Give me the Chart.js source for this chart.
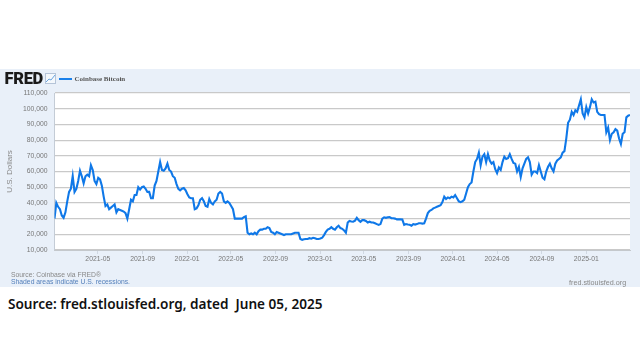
<!DOCTYPE html>
<html>
<head>
<meta charset="utf-8">
<title>Coinbase Bitcoin</title>
<script src="https://cdn.jsdelivr.net/npm/chart.js@4"></script>
<style>
    body { margin: 0; background: #fff; width: 640px; height: 356px; overflow: hidden; position: relative; }
    #panel { position: absolute; left: 0; top: 69px; width: 640px; height: 218px; background: #e9f0f9; }
    canvas { position: absolute; left: 0; top: 0; filter: blur(0.4px); }
    #panel div, #panel svg { position: absolute; white-space: nowrap; }
    #logo { left: 4.5px; top: 0px; font: 900 16.5px/20px Roboto, sans-serif; letter-spacing: -0.3px; color: #1a1a1a; }
    #icon { left: 45px; top: 4px; }
    #legendLine { left: 59px; top: 9px; width: 13px; height: 2px; background: #1a80ea; }
    #legendText { left: 74.5px; top: 5px; font: bold 7px/10px "Liberation Serif", serif; color: #555; }
    #src1 { left: 11px; top: 200.5px; font: 6.8px/9px "Liberation Sans", sans-serif; color: #888; }
    #src2 { left: 11px; top: 208px; font: 6.8px/9px "Liberation Sans", sans-serif; color: #5580bb; }
    #site { left: 569px; top: 208.5px; font: 7.2px/9px "Liberation Sans", sans-serif; color: #888; }
    #caption { position: absolute; left: 8px; top: 294px; font: 600 13.6px/20px "Noto Sans", sans-serif; color: #111; white-space: nowrap; }
</style>
</head>
<body>
<div id="panel">
    <canvas id="fredChart" width="640" height="218"></canvas>
    <div id="logo">FRED</div>
    <svg id="icon" width="11" height="11" viewBox="0 0 11 11">
        <rect x="0.5" y="0.5" width="10" height="10" fill="#f4f8fc" stroke="#b5c4d8"/>
        <polyline points="1,9 4,6 6,7 10,2" fill="none" stroke="#6aa5e0"/>
    </svg>
    <div id="legendLine"></div>
    <div id="legendText">Coinbase Bitcoin</div>
    <div id="src1">Source: Coinbase via FRED®</div>
    <div id="src2">Shaded areas indicate U.S. recessions.</div>
    <div id="site">fred.stlouisfed.org</div>
</div>
<div id="caption">Source: fred.stlouisfed.org, dated&nbsp; June 05, 2025</div>

<script>
// one value every 5 days, in thousands of dollars
const startDate = '2021-01-02';
const stepDays = 5;
const btcThousands = [
    30, 40, 37.5, 36, 32, 30.5, 34, 41, 47, 49, 57, 47, 49, 54, 60.5, 57, 52.5, 57, 58, 57,
    64, 61, 54, 52, 56, 55, 51, 44, 38, 39, 36, 37, 38, 39, 34, 36, 35.5, 35, 34.5, 33.5,
    30, 36, 42, 41, 45, 45, 50, 48.5, 50, 50.5, 49, 47, 47, 43, 43, 51, 54, 60, 66, 61,
    60.5, 62, 65, 61, 60, 57, 56, 52, 49, 48, 49, 49.5, 48, 45.5, 43.5, 43, 43, 36, 36.5, 38.5,
    42, 43, 41, 38, 37.5, 42.5, 40, 39, 41, 42, 46, 47, 46, 41, 40, 41, 40, 38, 36, 30,
    30, 30, 30, 30, 31, 31.5, 21, 20, 20.5, 20, 21, 20, 22, 23, 23, 23.5, 23.5, 24.5, 24, 21.5,
    21, 20, 21.5, 21, 20.5, 20, 19.5, 20, 20, 20, 20, 20.5, 21, 21, 21, 17, 16.5, 16.8, 17, 17,
    17.5, 17.2, 17.8, 17.5, 17, 17, 17.3, 17.8, 19.5, 21.5, 23, 23.5, 24.5, 23.5, 23, 24.5, 25.5, 24, 23.5, 22.5,
    21, 27.5, 28.5, 28.2, 28, 28.7, 30.5, 29, 28, 29, 29, 28.5, 27.5, 28, 27.5, 27.5, 27, 26.5, 26, 26.5,
    30, 30.8, 30.5, 30.8, 31, 30.3, 30.2, 30, 29.5, 29.6, 29.5, 29.4, 26, 26.5, 26.2, 26.1, 25.5, 26.5, 26.2, 26.5,
    27, 27, 26.8, 27, 30, 33.5, 35, 35.5, 36.5, 37, 37.5, 38, 38.5, 40.5, 44, 42.5, 43.5, 43, 44, 43.5,
    45, 43, 41, 40.5, 41, 42, 46, 50, 52, 53, 60, 66, 68, 72, 64, 69.5, 71, 66, 71, 67,
    65, 66, 61.5, 59, 62.5, 61, 66, 69.5, 68, 68.5, 71, 68, 65.5, 65, 60, 63, 56.5, 62, 65, 68,
    69, 66, 58, 60, 60, 59, 64, 60, 56, 55, 60, 63, 65, 62, 60, 65, 67, 68, 69, 72,
    73, 81, 91, 93, 98, 96, 99, 98, 102, 106, 97, 94.5, 101, 97, 101, 106, 104, 104.5, 98, 96.5,
    96, 96, 96, 85, 88, 80, 84, 85, 87, 86, 81, 77.5, 84, 85, 94.5, 95.5, 96
];
const tickDates = [
    '2021-05-01', '2021-09-01', '2022-01-01', '2022-05-01', '2022-09-01', '2023-01-01',
    '2023-05-01', '2023-09-01', '2024-01-01', '2024-05-01', '2024-09-01', '2025-01-01'
];

const dayMs = 24 * 3600 * 1000;
const startMs = Date.parse(startDate);
const points = btcThousands.map((v, i) => ({ x: startMs + i * stepDays * dayMs, y: v * 1000 }));

const tickFont = { family: '"Liberation Sans", sans-serif', size: 6.8 };

// white plot background, the panel colour stays around it
const plotBackground = {
    id: 'plotBackground',
    beforeDraw(chart) {
        const a = chart.chartArea;
        chart.ctx.fillStyle = '#fff';
        chart.ctx.fillRect(a.left, a.top, a.width, a.height);
    }
};

const ctx = document.getElementById('fredChart').getContext('2d');
new Chart(ctx, {
    type: 'line',
    data: {
        datasets: [{
            label: 'Coinbase Bitcoin',
            data: points,
            borderColor: '#0f78e8',
            borderWidth: 2.1,
            pointRadius: 0,
            tension: 0
        }]
    },
    options: {
        responsive: false,
        animation: false,
        layout: { padding: { top: 24, right: 10, bottom: 0, left: 0 } },
        plugins: { legend: { display: false }, tooltip: { enabled: false } },
        scales: {
            x: {
                type: 'linear',
                min: startMs,
                max: points[points.length - 1].x,
                afterBuildTicks: axis => { axis.ticks = tickDates.map(d => ({ value: Date.parse(d) })); },
                afterFit: axis => { axis.height = 37; },
                grid: { drawOnChartArea: false, drawTicks: true, tickLength: 4, color: '#d0d8e2' },
                border: { color: '#c4c8cc' },
                ticks: {
                    autoSkip: false,
                    maxRotation: 0,
                    padding: 1,
                    color: '#777',
                    font: tickFont,
                    callback: v => new Date(v).toISOString().slice(0, 7)
                }
            },
            y: {
                min: 10000,
                max: 110000,
                afterFit: axis => { axis.width = 54.5; },
                title: {
                    display: true,
                    text: 'U.S. Dollars',
                    color: '#888',
                    font: { family: '"Liberation Sans", sans-serif', size: 8 },
                    padding: { top: 5, bottom: 0 }
                },
                grid: { color: '#c9c9c9', lineWidth: 1.2, drawTicks: false },
                border: { color: '#c4ccd6' },
                ticks: {
                    stepSize: 10000,
                    padding: 7,
                    color: '#777',
                    font: tickFont,
                    callback: v => v.toLocaleString('en-US')
                }
            }
        }
    },
    plugins: [plotBackground]
});
</script>
</body>
</html>
